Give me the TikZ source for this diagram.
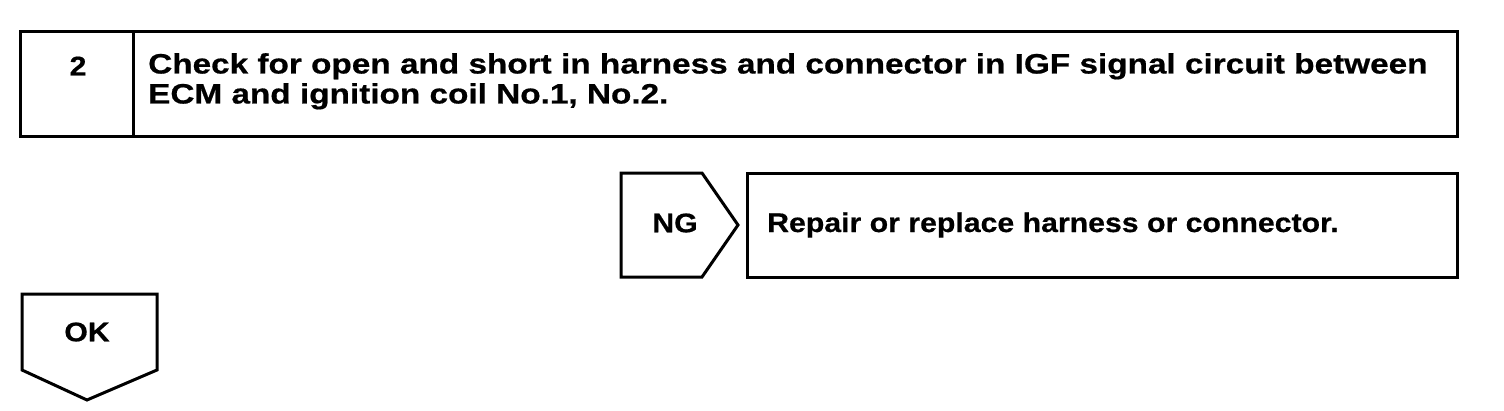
\documentclass[tikz,border=0pt]{standalone}
\usepackage{fontspec}
\setmainfont{Liberation Sans}
\newfontfamily\widebold{Liberation Sans Bold}[FakeStretch=1.12, FakeBold=0.6]
\newfontfamily\titlebold{Liberation Sans Bold}[FakeStretch=1.19, FakeBold=0.6]
\usetikzlibrary{positioning}

\begin{document}
\begin{tikzpicture}[
        x=1pt, y=-1pt,
        frame/.style={
            draw=black,
            line width=3pt,
            line join=miter
        },
        steptext/.style={
            font=\fontsize{28}{30}\titlebold,
            inner sep=0pt,
            align=left
        },
        tagtext/.style={
            font=\fontsize{27}{30}\widebold,
            inner sep=0pt
        }
    ]

    \useasboundingbox (0,0) rectangle (1504,410);

    \def\top{31}
    \def\bot{136}

    % step header
    \draw[frame] (20,\top) rectangle (1457,\bot);
    \draw[frame] (133,\top) -- (133,\bot);
    \node[tagtext] (num) at (78,66) {2};
    \node[steptext, anchor=north west] (check) at (148,53)
        {Check for open and short in harness and connector in IGF signal circuit between\\
         ECM and ignition coil No.1, No.2.};

    % NG branch
    \draw[frame] (621,173) -- (702,173) -- (738,225) -- (702,277) -- (621,277) -- cycle;
    \node[tagtext] (ng) at (675,223) {NG};
    \draw[frame] (747,173) rectangle (1457,277);
    \node[tagtext, anchor=base west] (repair) at (767,232) {Repair or replace harness or connector.};

    % OK branch
    \draw[frame] (22,294) -- (157,294) -- (157,370) -- (87,400) -- (22,370) -- cycle;
    \node[tagtext] (ok) at (87,332) {OK};

\end{tikzpicture}
\end{document}
